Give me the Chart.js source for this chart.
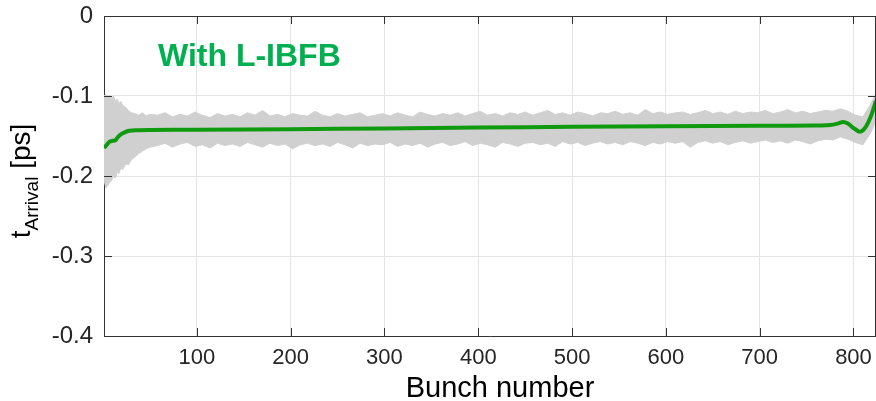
<!DOCTYPE html>
<html>
<head>
<meta charset="utf-8">
<script src="https://cdn.jsdelivr.net/npm/chart.js@4"></script>
<style>
  html, body { margin: 0; padding: 0; background: #fff; }
  #wrap { width: 876px; height: 401px; }
</style>
</head>
<body>
<div id="wrap"><canvas id="arrival-chart" width="876" height="401"></canvas></div>
<script>
const xTicks = [100, 200, 300, 400, 500, 600, 700, 800];
const yTicks = [0, -0.1, -0.2, -0.3, -0.4];

// bunch positions sampled for the grey spread band
const bandBunch = [
    1, 3, 5, 7, 9, 11, 13, 15, 17, 19, 21, 24, 27, 30, 34, 38, 42, 46, 50,
    58, 66, 74, 82, 90, 98, 106, 114, 122, 130,
    138, 146, 154, 162, 170, 178, 186, 194, 202, 210,
    218, 226, 234, 242, 250, 258, 266, 274, 282, 290,
    298, 306, 314, 322, 330, 338, 346, 354, 362, 370,
    378, 386, 394, 402, 410, 418, 426, 434, 442, 450,
    458, 466, 474, 482, 490, 498, 506, 514, 522, 530,
    538, 546, 554, 562, 570, 578, 586, 594, 602, 610,
    618, 626, 634, 642, 650, 658, 666, 674, 682, 690,
    698, 706, 714, 722, 730, 738, 746, 754, 762, 770,
    778, 786, 794, 802, 810, 818, 824,
];
const bandUpper = [
    -0.100, -0.098, -0.101, -0.099, -0.103, -0.100, -0.106, -0.104, -0.109, -0.107,
    -0.112, -0.114, -0.118, -0.121, -0.122, -0.124, -0.121, -0.125, -0.123,
    -0.124, -0.121, -0.126, -0.123, -0.125, -0.120, -0.124, -0.127, -0.122, -0.125,
    -0.123, -0.126, -0.121, -0.124, -0.118, -0.125, -0.123, -0.126, -0.122, -0.124,
    -0.125, -0.119, -0.124, -0.126, -0.122, -0.125, -0.123, -0.121, -0.126, -0.124,
    -0.122, -0.125, -0.121, -0.124, -0.126, -0.120, -0.123, -0.125, -0.122, -0.124,
    -0.121, -0.125, -0.122, -0.119, -0.124, -0.122, -0.125, -0.121, -0.123, -0.120,
    -0.124, -0.121, -0.118, -0.123, -0.121, -0.124, -0.120, -0.122, -0.125, -0.121,
    -0.122, -0.119, -0.123, -0.121, -0.124, -0.117, -0.122, -0.120, -0.123, -0.121,
    -0.120, -0.123, -0.121, -0.118, -0.122, -0.120, -0.123, -0.119, -0.122, -0.120,
    -0.121, -0.118, -0.122, -0.120, -0.117, -0.121, -0.119, -0.122, -0.120, -0.118,
    -0.119, -0.116, -0.119, -0.124, -0.126, -0.111, -0.097,
];
const bandLower = [
    -0.205, -0.215, -0.212, -0.208, -0.206, -0.200, -0.203, -0.195, -0.197, -0.190,
    -0.192, -0.185, -0.186, -0.180, -0.176, -0.172, -0.169, -0.166, -0.164,
    -0.162, -0.159, -0.164, -0.160, -0.158, -0.163, -0.161, -0.165, -0.159, -0.162,
    -0.160, -0.163, -0.158, -0.161, -0.164, -0.159, -0.162, -0.160, -0.166, -0.161,
    -0.159, -0.162, -0.160, -0.163, -0.158, -0.161, -0.165, -0.159, -0.162, -0.160,
    -0.161, -0.158, -0.163, -0.160, -0.162, -0.159, -0.164, -0.160, -0.158, -0.162,
    -0.160, -0.157, -0.162, -0.159, -0.161, -0.164, -0.158, -0.160, -0.163, -0.159,
    -0.158, -0.161, -0.159, -0.163, -0.157, -0.160, -0.158, -0.162, -0.159, -0.157,
    -0.160, -0.158, -0.161, -0.157, -0.159, -0.162, -0.158, -0.160, -0.157, -0.159,
    -0.157, -0.164, -0.158, -0.156, -0.159, -0.157, -0.161, -0.158, -0.156, -0.159,
    -0.157, -0.155, -0.158, -0.156, -0.159, -0.155, -0.157, -0.160, -0.156, -0.154,
    -0.155, -0.151, -0.154, -0.158, -0.161, -0.147, -0.131,
];

// smoothed mean arrival time
const meanBunch = [1, 4, 7, 10, 13, 16, 19, 23, 28, 35, 50, 100, 200, 300, 400, 500,
    600, 700, 760, 775, 783, 789, 794, 800, 806, 810, 814, 818, 821, 824];
const meanArrival = [-0.165, -0.161, -0.157, -0.156, -0.1555, -0.151, -0.148, -0.1455,
    -0.1435, -0.1428, -0.1425, -0.1422, -0.1415, -0.1405, -0.1395, -0.1385, -0.1378,
    -0.1372, -0.1368, -0.1362, -0.1345, -0.1325, -0.1345, -0.140, -0.1445, -0.143,
    -0.137, -0.127, -0.117, -0.106];

const FONT = "'Liberation Sans', Arial, sans-serif";
const AXIS = "#333333";
const GREY = "rgb(208, 208, 208)";

const toPoints = (xs, ys) => xs.map((x, i) => ({ x: x, y: ys[i] }));

const noPadding = (scale) => {
    scale.paddingLeft = 0;
    scale.paddingRight = 0;
    scale.paddingTop = 0;
    scale.paddingBottom = 0;
};

// box, inward ticks and text labels in MATLAB style
const decorations = {
    id: "decorations",
    afterDraw(chart) {
        const { ctx, chartArea: a, scales } = chart;
        ctx.save();
        ctx.strokeStyle = AXIS;
        ctx.lineWidth = 1;
        ctx.beginPath();
        ctx.moveTo(a.left, a.top + 0.5);
        ctx.lineTo(a.right, a.top + 0.5);
        ctx.moveTo(a.right - 0.5, a.top);
        ctx.lineTo(a.right - 0.5, a.bottom);
        xTicks.forEach((t) => {
            const px = Math.round(scales.x.getPixelForValue(t)) + 0.5;
            ctx.moveTo(px, a.bottom);
            ctx.lineTo(px, a.bottom - 8);
            ctx.moveTo(px, a.top);
            ctx.lineTo(px, a.top + 8);
        });
        yTicks.forEach((t) => {
            const py = Math.round(scales.y.getPixelForValue(t)) + 0.5;
            ctx.moveTo(a.left, py);
            ctx.lineTo(a.left + 8, py);
            ctx.moveTo(a.right, py);
            ctx.lineTo(a.right - 8, py);
        });
        ctx.stroke();

        ctx.fillStyle = "#00b050";
        ctx.font = "bold 32px " + FONT;
        ctx.textBaseline = "alphabetic";
        ctx.textAlign = "left";
        ctx.fillText("With L-IBFB", 158, 66);

        ctx.fillStyle = "#000";
        ctx.font = "29px " + FONT;
        ctx.textAlign = "center";
        ctx.fillText("Bunch number", 500, 397);

        // y title with subscript
        ctx.translate(30, 181);
        ctx.rotate(-Math.PI / 2);
        ctx.textAlign = "left";
        ctx.font = "28px " + FONT;
        const w1 = ctx.measureText("t").width;
        ctx.font = "19px " + FONT;
        const w2 = ctx.measureText("Arrival").width;
        ctx.font = "28px " + FONT;
        const w3 = ctx.measureText(" [ps]").width;
        let x0 = -(w1 + w2 + w3) / 2;
        ctx.fillText("t", x0, 0);
        ctx.font = "19px " + FONT;
        ctx.fillText("Arrival", x0 + w1, 8);
        ctx.font = "28px " + FONT;
        ctx.fillText(" [ps]", x0 + w1 + w2, 0);
        ctx.restore();
    },
};

new Chart(document.getElementById("arrival-chart").getContext("2d"), {
    type: "line",
    data: {
        datasets: [
            {
                label: "Mean",
                data: toPoints(meanBunch, meanArrival),
                borderColor: "#109a10",
                borderWidth: 4,
                pointRadius: 0,
                tension: 0.3,
                fill: false,
                order: 0,
            },
            {
                label: "Upper",
                data: toPoints(bandBunch, bandUpper),
                borderColor: GREY,
                backgroundColor: GREY,
                borderWidth: 1,
                pointRadius: 0,
                tension: 0,
                fill: "+1",
                order: 1,
            },
            {
                label: "Lower",
                data: toPoints(bandBunch, bandLower),
                borderColor: GREY,
                borderWidth: 1,
                pointRadius: 0,
                tension: 0,
                fill: false,
                order: 1,
            },
        ],
    },
    options: {
        responsive: false,
        animation: false,
        layout: { padding: { top: 16, right: 0, left: 0, bottom: 0 } },
        plugins: {
            legend: { display: false },
            tooltip: { enabled: false },
        },
        scales: {
            x: {
                type: "linear",
                min: 1,
                max: 824,
                afterBuildTicks: (scale) => {
                    scale.ticks = xTicks.map((v) => ({ value: v }));
                },
                afterFit: (scale) => {
                    scale.height = 65;
                    noPadding(scale);
                },
                grid: { color: "#e4e4e4", drawTicks: false },
                border: { color: AXIS },
                ticks: {
                    color: "#262626",
                    font: { family: FONT, size: 22 },
                    padding: 9,
                    maxRotation: 0,
                },
            },
            y: {
                type: "linear",
                min: -0.4,
                max: 0,
                afterBuildTicks: (scale) => {
                    scale.ticks = yTicks.map((v) => ({ value: v }));
                },
                afterFit: (scale) => {
                    scale.width = 104;
                    noPadding(scale);
                },
                grid: { color: "#e4e4e4", drawTicks: false },
                border: { color: AXIS },
                ticks: {
                    color: "#262626",
                    font: { family: FONT, size: 24 },
                    padding: 11,
                    callback: (v) => (v === 0 ? "0" : v.toFixed(1)),
                },
            },
        },
    },
    plugins: [decorations],
});
</script>
</body>
</html>
